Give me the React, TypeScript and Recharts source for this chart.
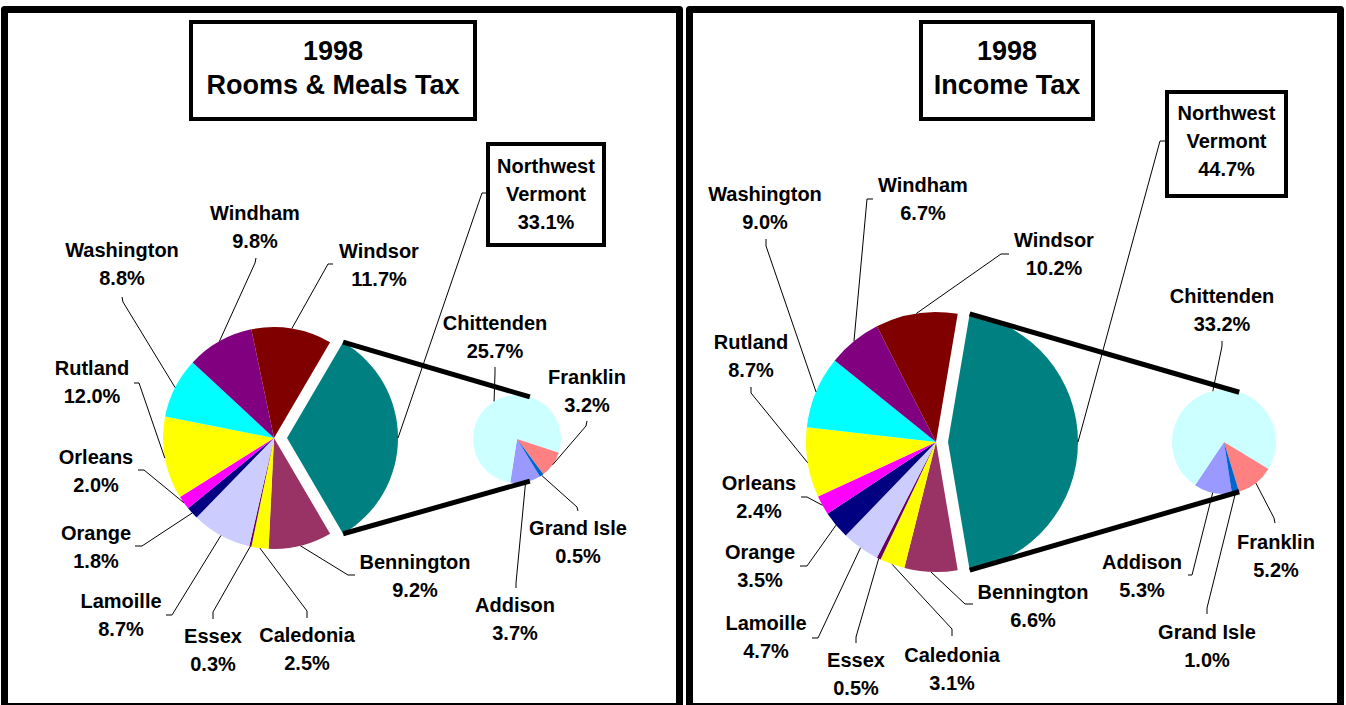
import { PieChart, Pie, Cell } from 'recharts';

// main pie: Northwest Vermont (exploded) followed by the other counties, clockwise
const mainCounties = ['Northwest Vermont', 'Bennington', 'Caledonia', 'Essex', 'Lamoille', 'Orange', 'Orleans', 'Rutland', 'Washington', 'Windham', 'Windsor'];
const roomsMain = [33.1, 9.2, 2.5, 0.3, 8.7, 1.8, 2.0, 12.0, 8.8, 9.8, 11.7];
const incomeMain = [44.7, 6.6, 3.1, 0.5, 4.7, 3.5, 2.4, 8.7, 9.0, 6.7, 10.2];

// secondary pie: the Northwest Vermont breakdown
const nwCounties = ['Addison', 'Chittenden', 'Franklin', 'Grand Isle'];
const roomsNw = [3.7, 25.7, 3.2, 0.5];
const incomeNw = [5.3, 33.2, 5.2, 1.0];

const year = '1998';
const titles = ['Rooms & Meals Tax', 'Income Tax'];

const NW = 'Northwest Vermont';
const COLORS: Record<string, string> = {
  'Northwest Vermont': '#008080',
  Bennington: '#993366',
  Caledonia: '#FFFF00',
  Essex: '#660066',
  Lamoille: '#CCCCFF',
  Orange: '#000080',
  Orleans: '#FF00FF',
  Rutland: '#FFFF00',
  Washington: '#00FFFF',
  Windham: '#800080',
  Windsor: '#800000',
  Addison: '#9999FF',
  Chittenden: '#CCFFFF',
  Franklin: '#FF8080',
  'Grand Isle': '#0066CC',
};

const FONT = "'Liberation Sans', Arial, Helvetica, sans-serif";
const RAD = Math.PI / 180;
const polar = (cx: number, cy: number, r: number, a: number) => [cx + r * Math.cos(a * RAD), cy - r * Math.sin(a * RAD)];
const fmt = (v: number) => `${v.toFixed(1)}%`;

type Spot = { x: number; y: number; leader: number[][] };

const panels = [
  {
    title: titles[0],
    main: roomsMain,
    nw: roomsNw,
    frame: { x: 4.5, y: 9.5, w: 675, h: 697 },
    titleBox: { x: 191, y: 22, w: 284, h: 97 },
    nwBox: { x: 488, y: 144, w: 116, h: 101, cy: 194, tail: [[486, 193], [482, 193]] },
    pie: { cx: 274, cy: 438, r: 111, explode: 13 },
    sub: { cx: 517, cy: 439, r: 44, start: -58.6 },
    labels: {
      Washington: { x: 122, y: 250, leader: [[122, 297], [123, 302]] },
      Windham: { x: 255, y: 213, leader: [[256, 258], [255, 263]] },
      Windsor: { x: 379, y: 251, leader: [[333, 264], [328, 264]] },
      Chittenden: { x: 495, y: 323, leader: [[495, 367], [495, 373]] },
      Franklin: { x: 587, y: 377, leader: [[587, 421], [586, 426]] },
      'Grand Isle': { x: 578, y: 528, leader: [[578, 511], [577, 507]] },
      Addison: { x: 515, y: 605, leader: [[516, 588], [516, 583]] },
      Bennington: { x: 415, y: 562, leader: [[355, 575], [348, 575]] },
      Caledonia: { x: 307, y: 635, leader: [[307, 618], [307, 611]] },
      Essex: { x: 213, y: 636, leader: [[213, 619], [213, 612]] },
      Lamoille: { x: 121, y: 601, leader: [[166, 615], [172, 615]] },
      Orange: { x: 96, y: 533, leader: [[135, 546], [142, 546]] },
      Orleans: { x: 96, y: 457, leader: [[138, 470], [144, 470]] },
      Rutland: { x: 92, y: 368, leader: [[134, 383], [139, 383]] },
    } as Record<string, Spot>,
  },
  {
    title: titles[1],
    main: incomeMain,
    nw: incomeNw,
    frame: { x: 689.5, y: 9.5, w: 651, h: 697 },
    titleBox: { x: 921, y: 22, w: 172, h: 97 },
    nwBox: { x: 1167, y: 92, w: 119, h: 104, cy: 141, tail: [[1165, 141], [1160, 141]] },
    pie: { cx: 936, cy: 442, r: 130, explode: 12 },
    sub: { cx: 1224, cy: 442, r: 52, start: -81.2 },
    labels: {
      Washington: { x: 765, y: 194, leader: [[766, 239], [766, 246]] },
      Windham: { x: 923, y: 185, leader: [[873, 199], [867, 199]] },
      Windsor: { x: 1054, y: 240, leader: [[1009, 254], [1001, 254]] },
      Chittenden: { x: 1222, y: 296, leader: [[1222, 341], [1222, 346]] },
      Rutland: { x: 751, y: 342, leader: [[751, 387], [751, 393]] },
      Orleans: { x: 759, y: 483, leader: [[801, 497], [807, 497]] },
      Orange: { x: 760, y: 552, leader: [[800, 566], [807, 566]] },
      Lamoille: { x: 766, y: 623, leader: [[812, 638], [818, 638]] },
      Essex: { x: 856, y: 660, leader: [[856, 643], [856, 637]] },
      Caledonia: { x: 952, y: 655, leader: [[952, 636], [952, 629]] },
      Bennington: { x: 1033, y: 592, leader: [[973, 604], [965, 604]] },
      Addison: { x: 1142, y: 562, leader: [[1188, 575], [1192, 575]] },
      Franklin: { x: 1276, y: 542, leader: [[1275, 523], [1274, 518]] },
      'Grand Isle': { x: 1207, y: 632, leader: [[1207, 614], [1207, 608]] },
    } as Record<string, Spot>,
  },
];

const TwoLines = ({ x, y, a, b, size = 20 }: { x: number; y: number; a: string; b: string; size?: number }) => (
  <g fontFamily={FONT} fontWeight="bold" fontSize={size} fill="#000" textAnchor="middle">
    <text x={x} y={y} dominantBaseline="central">{a}</text>
    <text x={x} y={y + 27.5} dominantBaseline="central">{b}</text>
  </g>
);

const sliceLabel = (labels: Record<string, Spot>) => (p: any) => {
  const spot = labels[p.name];
  if (!spot) return null;
  const edge = polar(p.cx, p.cy, p.outerRadius, p.midAngle);
  const pts = [...spot.leader, edge].map((q) => q.join(',')).join(' ');
  return (
    <g>
      <polyline points={pts} fill="none" stroke="#000" strokeWidth={1} />
      <TwoLines x={spot.x} y={spot.y} a={p.name} b={fmt(p.value)} />
    </g>
  );
};

const nwLabel = (panel: (typeof panels)[number]) => (p: any) => {
  if (p.name !== NW) return null;
  const half = p.percent * 180;
  const top = polar(p.cx, p.cy, p.outerRadius, p.midAngle + half);
  const bot = polar(p.cx, p.cy, p.outerRadius, p.midAngle - half);
  const s = panel.sub;
  const subTop = polar(s.cx, s.cy, s.r, 73);
  const subBot = polar(s.cx, s.cy, s.r, -73);
  const edge = polar(p.cx, p.cy, p.outerRadius, p.midAngle);
  const b = panel.nwBox;
  const pts = [...b.tail, edge].map((q) => q.join(',')).join(' ');
  return (
    <g>
      <line x1={top[0]} y1={top[1]} x2={subTop[0]} y2={subTop[1]} stroke="#000" strokeWidth={5} />
      <line x1={bot[0]} y1={bot[1]} x2={subBot[0]} y2={subBot[1]} stroke="#000" strokeWidth={5} />
      <polyline points={pts} fill="none" stroke="#000" strokeWidth={1} />
      <rect x={b.x} y={b.y} width={b.w} height={b.h} fill="#fff" stroke="#000" strokeWidth={4} />
      <g fontFamily={FONT} fontWeight="bold" fontSize={20} fill="#000" textAnchor="middle">
        <text x={b.x + b.w / 2} y={b.cy - 28} dominantBaseline="central">Northwest</text>
        <text x={b.x + b.w / 2} y={b.cy} dominantBaseline="central">Vermont</text>
        <text x={b.x + b.w / 2} y={b.cy + 28} dominantBaseline="central">{fmt(p.value)}</text>
      </g>
    </g>
  );
};

export default function App() {
  return (
    <div style={{ position: 'absolute', left: 0, top: 0, width: 1346, height: 705, background: '#fff', overflow: 'hidden' }}>
      <svg width={1346} height={705} style={{ position: 'absolute', left: 0, top: 0 }}>
        {panels.map((pn) => (
          <g key={pn.title}>
            <rect x={pn.frame.x} y={pn.frame.y} width={pn.frame.w} height={pn.frame.h} fill="none" stroke="#000" strokeWidth={7} strokeLinejoin="round" />
            <rect x={pn.titleBox.x} y={pn.titleBox.y} width={pn.titleBox.w} height={pn.titleBox.h} fill="#fff" stroke="#000" strokeWidth={4} />
            <g fontFamily={FONT} fontWeight="bold" fontSize={27} fill="#000" textAnchor="middle">
              <text x={pn.titleBox.x + pn.titleBox.w / 2} y={51} dominantBaseline="central">{year}</text>
              <text x={pn.titleBox.x + pn.titleBox.w / 2} y={85} dominantBaseline="central">{pn.title}</text>
            </g>
          </g>
        ))}
      </svg>
      <div style={{ position: 'absolute', left: 0, top: 0 }}>
        <PieChart width={1346} height={705} margin={{ top: 0, right: 0, bottom: 0, left: 0 }}>
          {panels.flatMap((pn, i) => {
            const mainData = mainCounties.map((name, k) => ({ name, value: pn.main[k] }));
            const subData = nwCounties.map((name, k) => ({ name, value: pn.nw[k] }));
            const total = pn.main.reduce((a, v) => a + v, 0);
            const start = (pn.main[0] / total) * 180;
            return [
              <Pie
                key={`main-${i}`}
                data={mainData}
                dataKey="value"
                nameKey="name"
                cx={pn.pie.cx}
                cy={pn.pie.cy}
                outerRadius={pn.pie.r}
                startAngle={start}
                endAngle={start - 360}
                stroke="none"
                labelLine={false}
                label={sliceLabel(pn.labels)}
                isAnimationActive={false}
              >
                {mainData.map((d) => (
                  <Cell key={d.name} fill={d.name === NW ? 'none' : COLORS[d.name]} stroke="none" />
                ))}
              </Pie>,
              <Pie
                key={`explode-${i}`}
                data={mainData}
                dataKey="value"
                nameKey="name"
                cx={pn.pie.cx + pn.pie.explode}
                cy={pn.pie.cy}
                outerRadius={pn.pie.r}
                startAngle={start}
                endAngle={start - 360}
                stroke="none"
                labelLine={false}
                label={nwLabel(pn)}
                isAnimationActive={false}
              >
                {mainData.map((d) => (
                  <Cell key={d.name} fill={d.name === NW ? COLORS[d.name] : 'none'} stroke="none" />
                ))}
              </Pie>,
              <Pie
                key={`sub-${i}`}
                data={subData}
                dataKey="value"
                nameKey="name"
                cx={pn.sub.cx}
                cy={pn.sub.cy}
                outerRadius={pn.sub.r}
                startAngle={pn.sub.start}
                endAngle={pn.sub.start - 360}
                stroke="none"
                labelLine={false}
                label={sliceLabel(pn.labels)}
                isAnimationActive={false}
              >
                {subData.map((d) => (
                  <Cell key={d.name} fill={COLORS[d.name]} stroke="none" />
                ))}
              </Pie>,
            ];
          })}
        </PieChart>
      </div>
    </div>
  );
}
